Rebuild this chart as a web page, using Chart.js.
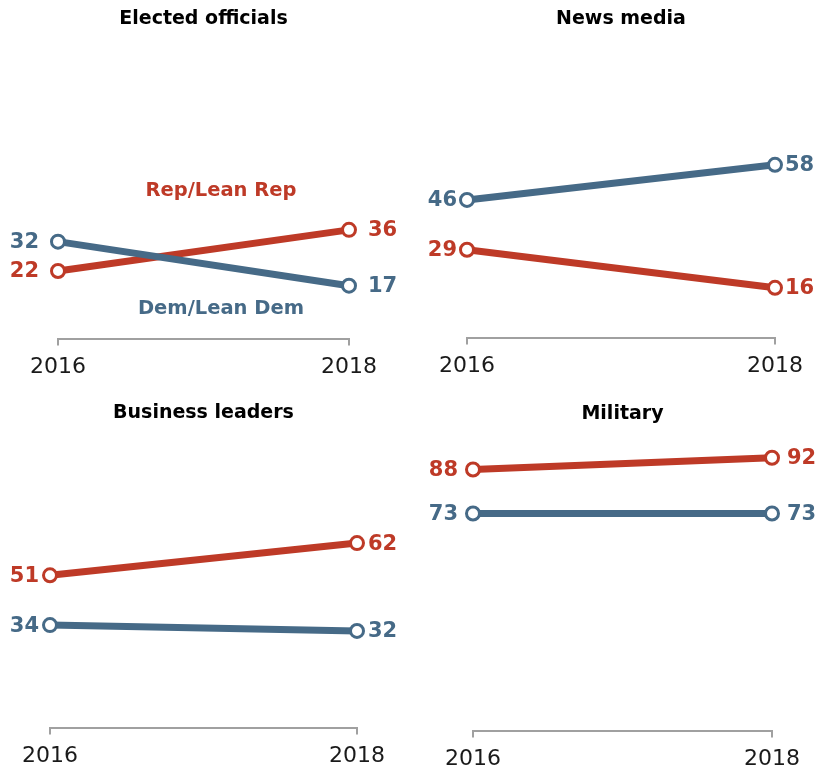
<!DOCTYPE html>
<html>
<head>
<meta charset="utf-8">
<script src="https://cdn.jsdelivr.net/npm/chart.js@4.4.1/dist/chart.umd.min.js"></script>
<style>
  html, body { margin: 0; padding: 0; background: #fff; overflow: hidden; }
  #wrap { position: relative; width: 825px; height: 770px; }
  #wrap canvas { position: absolute; }
</style>
</head>
<body>
<div id="wrap"></div>
<script>
// survey years on the x axis
const years = ['2016', '2018'];

// share with confidence, by party
const electedRep = [22, 36];
const electedDem = [32, 17];
const newsRep = [29, 16];
const newsDem = [46, 58];
const businessRep = [51, 62];
const businessDem = [34, 32];
const militaryRep = [88, 92];
const militaryDem = [73, 73];

const REP = '#BE3A27';
const DEM = '#466A87';
const FONT = '"DejaVu Sans", sans-serif';

// box = canvas placement on the page, pad = layout padding inside it
const panels = [
  { title: 'Elected officials', rep: electedRep, dem: electedDem,
    box: [0, 0, 412, 400], pad: { left: 58, right: 63, top: 0, bottom: 12 },
    titlePad: { top: 8, bottom: 11 }, gap: 19,
    names: [
      { text: 'Rep/Lean Rep', x: 0.56, y: 49.3, color: REP },
      { text: 'Dem/Lean Dem', x: 0.56, y: 9, color: DEM }
    ] },
  { title: 'News media', rep: newsRep, dem: newsDem,
    box: [412, 0, 413, 400], pad: { left: 55, right: 50, top: 0, bottom: 13 },
    titlePad: { top: 8, bottom: 11 }, gap: 10 },
  { title: 'Business leaders', rep: businessRep, dem: businessDem,
    box: [0, 385, 412, 400], pad: { left: 50, right: 55, top: 0, bottom: 8 },
    titlePad: { top: 17, bottom: 7 }, gap: 11 },
  { title: 'Military', rep: militaryRep, dem: militaryDem,
    box: [412, 385, 413, 400], pad: { left: 61, right: 53, top: 0, bottom: 5 },
    titlePad: { top: 18, bottom: 8.5 }, gap: 15 }
];

// numbers at both ends of each line, plus the series names
const endLabels = {
  id: 'endLabels',
  afterDatasetsDraw(chart, args, opts) {
    const ctx = chart.ctx;
    ctx.save();
    ctx.textBaseline = 'middle';
    ctx.font = 'bold 21px ' + FONT;
    chart.data.datasets.forEach((ds, i) => {
      const pts = chart.getDatasetMeta(i).data;
      const last = pts.length - 1;
      ctx.fillStyle = ds.borderColor;
      ctx.textAlign = 'right';
      ctx.fillText(ds.data[0], pts[0].x - opts.gap, pts[0].y + 1);
      ctx.textAlign = 'left';
      ctx.fillText(ds.data[last], pts[last].x + opts.gap, pts[last].y + 1);
    });
    const xs = chart.scales.x, ys = chart.scales.y;
    ctx.font = 'bold 19.5px ' + FONT;
    ctx.textAlign = 'center';
    (opts.names || []).forEach(n => {
      ctx.fillStyle = n.color;
      ctx.fillText(n.text, xs.getPixelForValue(n.x), ys.getPixelForValue(n.y));
    });
    ctx.restore();
  }
};

const wrap = document.getElementById('wrap');

panels.forEach(p => {
  const cv = document.createElement('canvas');
  cv.style.left = p.box[0] + 'px';
  cv.style.top = p.box[1] + 'px';
  cv.style.width = p.box[2] + 'px';
  cv.style.height = p.box[3] + 'px';
  cv.width = p.box[2];
  cv.height = p.box[3];
  wrap.appendChild(cv);

  const line = (label, values, color) => ({
    label: label,
    data: values,
    borderColor: color,
    borderWidth: 7,
    pointRadius: 6.5,
    pointBorderWidth: 3,
    pointBackgroundColor: '#fff',
    pointBorderColor: color,
    clip: false,
    tension: 0
  });

  new Chart(cv, {
    type: 'line',
    data: {
      labels: years,
      // Dem first so it is drawn over Rep where the lines cross
      datasets: [line('Dem/Lean Dem', p.dem, DEM), line('Rep/Lean Rep', p.rep, REP)]
    },
    options: {
      responsive: false,
      animation: false,
      events: [],
      layout: { padding: p.pad },
      scales: {
        x: {
          offset: false,
          border: { display: true, color: '#a0a0a0', width: 2 },
          grid: { display: true, drawOnChartArea: false, drawTicks: true,
                  tickLength: 7, color: '#a0a0a0', lineWidth: 2 },
          ticks: { color: '#1a1a1a', padding: 8, maxRotation: 0,
                   font: { family: FONT, size: 22 } }
        },
        y: { display: false, min: -1, max: 100 }
      },
      plugins: {
        legend: { display: false },
        tooltip: { enabled: false },
        title: {
          display: true,
          text: p.title,
          color: '#000',
          padding: p.titlePad,
          font: { family: FONT, size: 19, weight: 'bold', lineHeight: 1.2 }
        },
        endLabels: { gap: p.gap, names: p.names }
      }
    },
    plugins: [endLabels]
  });
});
</script>
</body>
</html>
